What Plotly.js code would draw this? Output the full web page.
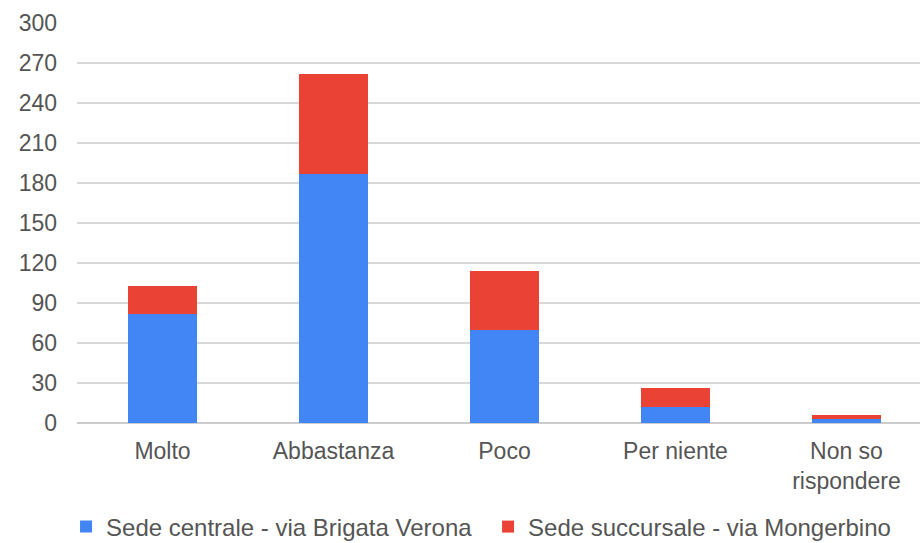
<!DOCTYPE html>
<html>
<head>
<meta charset="utf-8">
<script src="https://cdn.plot.ly/plotly-3.0.1.min.js"></script>
<style>
html,body{margin:0;padding:0;background:#fff;}
#chart{width:920px;height:543px;}
</style>
</head>
<body>
<div id="chart"></div>
<script>
const categories = ["Molto", "Abbastanza", "Poco", "Per niente", "Non so<br>rispondere"];
const seriesNames = ["Sede centrale - via Brigata Verona", "Sede succursale - via Mongerbino"];
const sedeCentrale = [82, 187, 70, 12, 3];
const sedeSuccursale = [21, 75, 44, 14, 3];
const yTicks = [0, 30, 60, 90, 120, 150, 180, 210, 240, 270, 300];

const font = {family: "Liberation Sans, Arial, sans-serif", size: 23, color: "#555555"};

const traces = [
  {type: "bar", name: seriesNames[0], x: categories, y: sedeCentrale, marker: {color: "#4285f4"}, hoverinfo: "y"},
  {type: "bar", name: seriesNames[1], x: categories, y: sedeSuccursale, marker: {color: "#ea4335"}, hoverinfo: "y"}
];

const layout = {
  width: 920, height: 543,
  barmode: "stack",
  bargap: 0.6,
  paper_bgcolor: "#ffffff",
  plot_bgcolor: "#ffffff",
  font: font,
  margin: {l: 77, r: 0, t: 23, b: 120, autoexpand: false},
  xaxis: {
    type: "category",
    range: [-0.5, 4.43],
    showgrid: false,
    zeroline: false,
    showline: false,
    ticks: "",
    tickfont: font,
    ticklabelstandoff: 12
  },
  yaxis: {
    range: [0, 300],
    tickvals: yTicks,
    ticktext: yTicks.map(String),
    showgrid: true,
    gridcolor: "#d9d9d9",
    gridwidth: 1.5,
    zeroline: true,
    zerolinecolor: "#cccccc",
    zerolinewidth: 1.5,
    showline: false,
    ticks: "",
    tickfont: font,
    ticklabelstandoff: 19
  },
  showlegend: true,
  legend: {
    orientation: "h",
    x: -0.013, xanchor: "left",
    y: -0.26, yanchor: "middle",
    font: {family: font.family, size: 24, color: font.color},
    itemwidth: 30,
    entrywidth: 377,
    entrywidthmode: "pixels",
    traceorder: "normal",
    tracegroupgap: 0
  }
};

Plotly.newPlot("chart", traces, layout, {displayModeBar: false, staticPlot: true});
</script>
</body>
</html>
